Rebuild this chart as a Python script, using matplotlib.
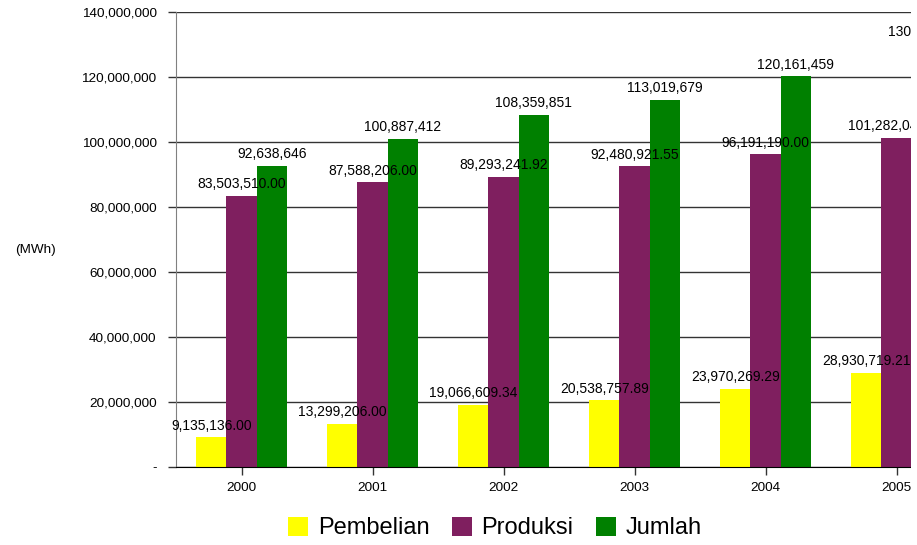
import numpy as np
import matplotlib
matplotlib.use('Agg')
import matplotlib.pyplot as plt
from matplotlib.patches import Rectangle
from matplotlib.ticker import FuncFormatter

years = ['2000', '2001', '2002', '2003', '2004', '2005']
pembelian = [9135136.00, 13299206.00, 19066609.34, 20538757.89, 23970269.29, 28930719.21]
produksi = [83503510.00, 87588206.00, 89293241.92, 92480921.55, 96191190.00, 101282043.00]
jumlah = [92638646, 100887412, 108359851, 113019679, 120161459, 130212762]

plt.rcParams['font.family'] = ['Liberation Sans', 'DejaVu Sans']

fig = plt.figure(figsize=(9.17, 5.45), dpi=100)
# the plot area runs off the right edge, as in the original image
ax = fig.add_axes([176/917, 78/545, 786/917, 455/545])

x = np.arange(len(years))
w = 0.23
series = [(pembelian, '#FFFF00', 'Pembelian', '{:,.2f}'),
          (produksi, '#7F1F5F', 'Produksi', '{:,.2f}'),
          (jumlah, '#008000', 'Jumlah', '{:,.0f}')]
for i, (vals, col, name, fmt) in enumerate(series):
    pos = x + (i - 1) * w
    ax.bar(pos, vals, width=w, color=col, label=name, zorder=2)
    for p, v in zip(pos, vals):
        ax.annotate(fmt.format(v), (p, v), xytext=(0, 5.5), textcoords='offset points',
                    ha='center', va='baseline', fontsize=10, zorder=3)

ax.set_xlim(-0.5, len(years) - 0.5)
ax.set_ylim(0, 140000000)
ax.set_yticks(np.arange(0, 140000001, 20000000))
ax.yaxis.set_major_formatter(FuncFormatter(lambda v, p: '-' if v == 0 else '{:,.0f}'.format(v)))
ax.set_xticks(x)
ax.set_xticklabels(years)
ax.tick_params(axis='y', length=6, width=1, pad=8, labelsize=9.7, color='#333333')
ax.tick_params(axis='x', length=6, width=1, pad=4.5, labelsize=9.7, color='#333333')
ax.grid(axis='y', color='#333333', linewidth=1, zorder=1)
ax.set_axisbelow(True)
for s in ['top', 'right']:
    ax.spines[s].set_visible(False)
ax.spines['left'].set_color('#808080')
ax.spines['bottom'].set_color('black')

fig.text(15/917, 1 - 250/545, '(MWh)', fontsize=9.7, va='center', ha='left')

fig.legend(loc='center', bbox_to_anchor=(495/917, 1 - 528/545), ncol=3, frameon=False,
           fontsize=17, handlelength=0.85, handleheight=0.85, handletextpad=0.4,
           columnspacing=0.95)

# the source image is cropped a few pixels before its right edge
fig.patches.append(Rectangle((911/917, 0), 1, 1, transform=fig.transFigure,
                             facecolor='white', edgecolor='none', zorder=10))

fig.savefig('out.png', dpi=100)
plt.close()
